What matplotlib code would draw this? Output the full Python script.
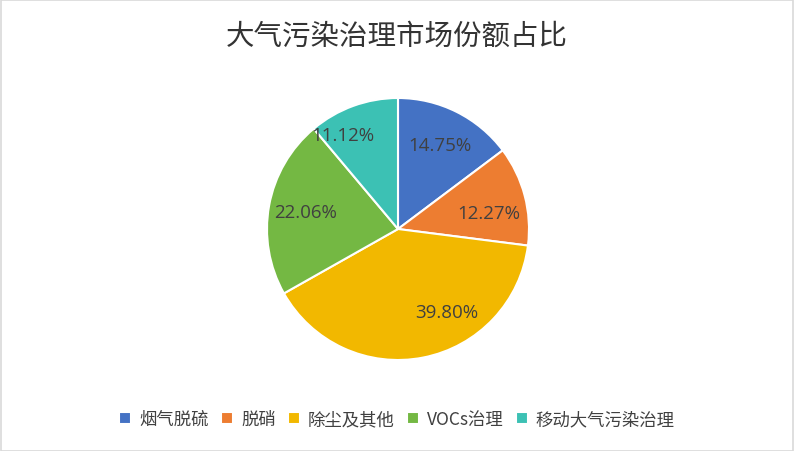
import matplotlib.pyplot as plt
from matplotlib.patches import Rectangle

plt.rcParams['font.family'] = ['Noto Sans CJK SC', 'DejaVu Sans']

# 数据
categories = ['烟气脱硫', '脱硝', '除尘及其他', 'VOCs治理', '移动大气污染治理']
shares = [14.75, 12.27, 39.80, 22.06, 11.12]
colors = ['#4472C4', '#ED7D31', '#F2B800', '#74B843', '#3CC1B4']

fig = plt.figure(figsize=(7.94, 4.52), dpi=100)

# 外框
fig.patches.append(Rectangle((0.001, 0.001), 0.998, 0.997, transform=fig.transFigure,
                             fill=False, edgecolor='#D9D9D9', linewidth=1.2))

ax = fig.add_axes([(398 - 131) / 794, (452 - 230 - 131) / 452, 262 / 794, 262 / 452])
wedges, texts = ax.pie(shares, colors=colors, startangle=90, counterclock=False,
                       labels=['%.2f%%' % v for v in shares], labeldistance=0.72,
                       wedgeprops=dict(edgecolor='white', linewidth=1.5),
                       textprops=dict(color='#404040', fontsize=13.5, ha='center', va='center'))
for t in texts:
    t.set_family(['Open Sans', 'DejaVu Sans'])
    t.set_horizontalalignment('center')
# Excel 的"最佳位置"标签
texts[2].set_position((0.37, -0.63))
texts[1].set_position((0.69, 0.12))
texts[4].set_position((-0.42, 0.72))
ax.set_xlim(-1, 1)
ax.set_ylim(-1, 1)

fig.text(0.5, 1 - 37 / 452, '大气污染治理市场份额占比', ha='center', va='center',
         fontsize=20.5, color='#333333')

leg = fig.legend(wedges, categories, loc='center', bbox_to_anchor=(0.5, 1 - 420 / 452),
                 ncol=5, frameon=False, fontsize=12.5, handlelength=0.7, handleheight=0.7,
                 handletextpad=0.45, columnspacing=0.7)
for t in leg.get_texts():
    t.set_color('#404040')

fig.savefig('out.png', dpi=100)
